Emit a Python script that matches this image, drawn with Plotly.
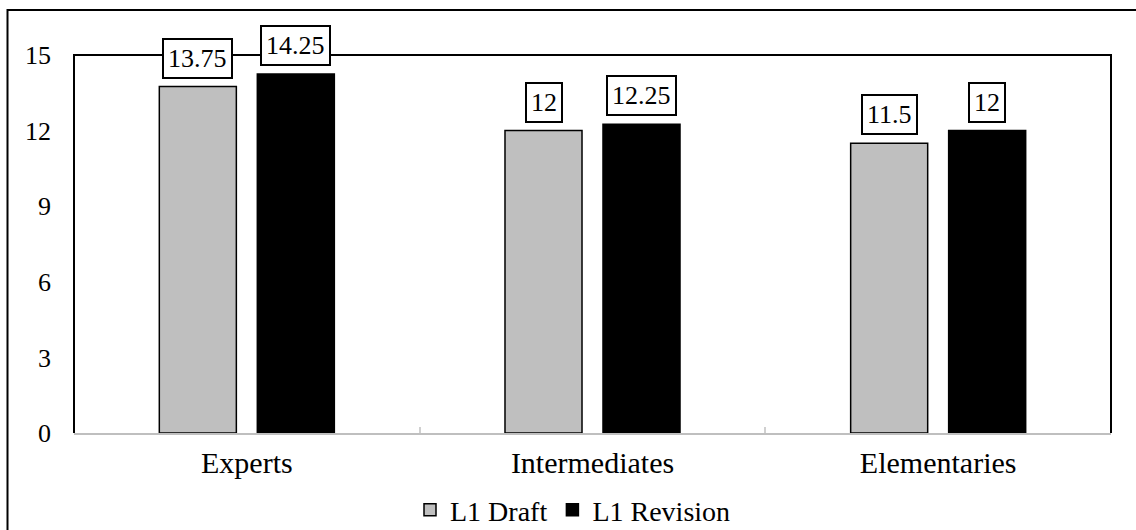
import plotly.graph_objects as go

# Mean scores per proficiency group
groups = ["Experts", "Intermediates", "Elementaries"]
draft_scores = [13.75, 12, 11.5]
revision_scores = [14.25, 12.25, 12]
y_ticks = [0, 3, 6, 9, 12, 15]

FONT = "Liberation Serif"
FS = 26

W, H = 1136, 530
M_L, M_R, M_T, M_B = 74, 25, 55, 97
PW, PH = W - M_L - M_R, H - M_T - M_B


def px_x(p):
    return (p - M_L) / PW


def px_y(p):
    return (H - M_B - p) / PH


fig = go.Figure()
fig.add_trace(go.Bar(
    name="L1 Draft", x=groups, y=draft_scores,
    marker=dict(color="#BFBFBF", line=dict(color="#000000", width=1.5)),
))
fig.add_trace(go.Bar(
    name="L1 Revision", x=groups, y=revision_scores,
    marker=dict(color="#000000", line=dict(color="#000000", width=1.5)),
))

# Boxed value labels above each bar
annotations = []
for i, g in enumerate(groups):
    for j, vals in enumerate([draft_scores, revision_scores]):
        v = vals[i]
        annotations.append(dict(
            x=g, y=v, xref="x", yref="y",
            text=f"{v:g}", showarrow=False,
            xshift=(-1 if j == 0 else 1) * 49,
            yanchor="bottom", yshift=8,
            font=dict(family=FONT, size=FS, color="#000000"),
            bgcolor="#FFFFFF", bordercolor="#000000",
            borderwidth=2, borderpad=4,
        ))

shapes = [
    # plot-area frame (left, top, right)
    dict(type="path", xref="paper", yref="paper",
         path="M 0,0 L 0,1 L 1,1 L 1,0",
         line=dict(color="#000000", width=2), layer="below"),
    # outer chart frame
    dict(type="path", xref="paper", yref="paper",
         path=f"M {px_x(7.5)},{px_y(540)} L {px_x(7.5)},{px_y(10)} L {px_x(1145)},{px_y(10)}",
         line=dict(color="#000000", width=2)),
]

fig.update_layout(
    width=W, height=H,
    margin=dict(l=M_L, r=M_R, t=M_T, b=M_B, pad=0, autoexpand=False),
    paper_bgcolor="#FFFFFF", plot_bgcolor="#FFFFFF",
    barmode="group", bargap=0.433, bargroupgap=0.214,
    font=dict(family=FONT, size=FS, color="#000000"),
    showlegend=True,
    legend=dict(orientation="h", x=px_x(410), xanchor="left",
                y=px_y(510), yanchor="middle",
                font=dict(family=FONT, size=28, color="#000000"),
                itemclick=False, traceorder="normal"),
    xaxis=dict(showgrid=False, zeroline=False,
               showline=True, linecolor="#BFBFBF", linewidth=2,
               ticks="inside", tickson="boundaries", ticklen=6,
               tickcolor="#D0D0D0", tickwidth=2,
               ticklabelstandoff=2,
               tickfont=dict(family=FONT, size=30, color="#000000")),
    xaxis2=dict(overlaying="x", anchor="y", range=[-0.5, 2.5],
                tickvals=[0, 1, 2], showticklabels=False,
                ticks="inside", ticklen=5, tickcolor="#D8D8D8", tickwidth=2,
                showgrid=False, zeroline=False, showline=False),
    yaxis=dict(range=[0, 15], tickvals=y_ticks, showgrid=False,
               zeroline=False, showline=False, ticks="",
               ticklabelstandoff=22,
               tickfont=dict(family=FONT, size=FS, color="#000000")),
    annotations=annotations,
    shapes=shapes,
)

fig.write_html("out.html")
